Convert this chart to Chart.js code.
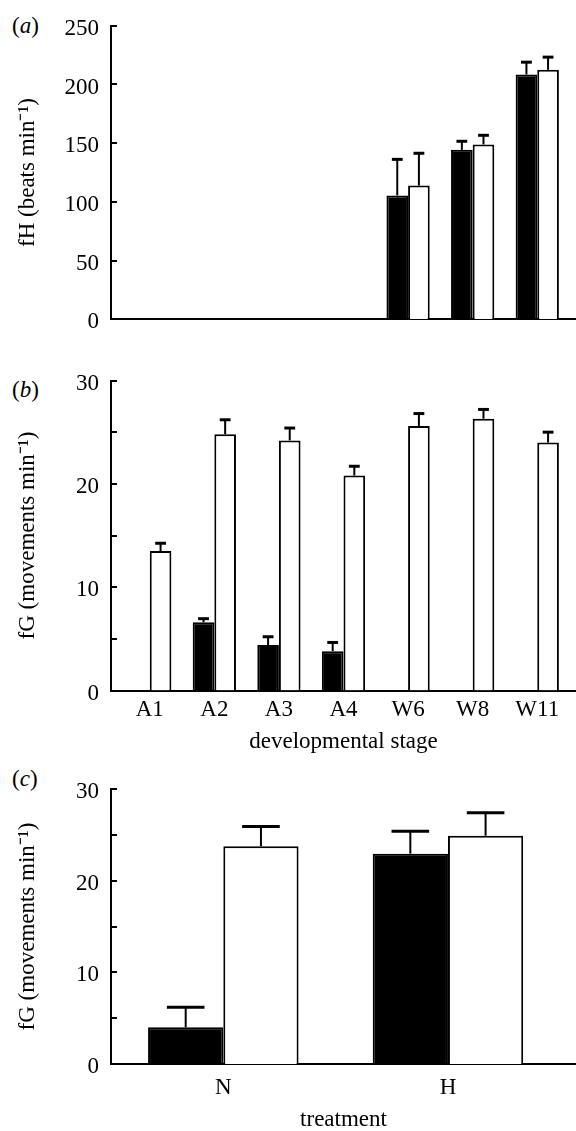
<!DOCTYPE html>
<html>
<head>
<meta charset="utf-8">
<script src="https://cdn.jsdelivr.net/npm/chart.js@4/dist/chart.umd.min.js"></script>
<style>
  body { margin: 0; background: #fff; width: 576px; height: 1131px; position: relative; overflow: hidden; }
  canvas { position: absolute; left: 0; }
  .tag { position: absolute; left: 12px; font: 23px/23px 'Liberation Serif', 'Times New Roman', serif; color: #000; }
</style>
</head>
<body>
<div class="tag" style="top:14px">(<i>a</i>)</div>
<div class="tag" style="top:378px">(<i>b</i>)</div>
<div class="tag" style="top:767px">(<i>c</i>)</div>
<canvas id="chartA" width="576" height="345" style="top:0"></canvas>
<canvas id="chartB" width="576" height="410" style="top:350px"></canvas>
<canvas id="chartC" width="576" height="371" style="top:760px"></canvas>
<script>
// stages and treatments
const stages = ['A1', 'A2', 'A3', 'A4', 'W6', 'W8', 'W11'];
const treatments = ['N', 'H'];

// (a) heart rate, beats per min
const heartFilled = [null, null, null, null, 105.5, 144.3, 208.5];
const heartFilledErr = [null, null, null, null, 30.7, 7.3, 10.5];
const heartOpen = [null, null, null, null, 113.9, 148.9, 212.5];
const heartOpenErr = [null, null, null, null, 27.5, 7.8, 10.8];

// (b) gill movements per min by stage
const gillFilled = [null, 6.6, 4.4, 3.8, null, null, null];
const gillFilledErr = [null, 0.35, 0.8, 0.85, null, null, null];
const gillOpen = [13.5, 24.8, 24.2, 20.8, 25.6, 26.3, 24.0];
const gillOpenErr = [0.75, 1.4, 1.2, 0.9, 1.2, 0.9, 1.0];

// (c) gill movements per min by treatment
const treatFilled = [4.0, 22.95];
const treatFilledErr = [2.2, 2.45];
const treatOpen = [23.75, 24.9];
const treatOpenErr = [2.15, 2.5];

Chart.defaults.font.family = "'Liberation Serif', 'Times New Roman', serif";
Chart.defaults.font.size = 23;
Chart.defaults.color = '#000';

const errorBars = {
  id: 'errorBars',
  afterDatasetsDraw(chart) {
    const ctx = chart.ctx;
    const y = chart.scales.y;
    const left = chart.chartArea.left;
    ctx.save();
    ctx.strokeStyle = '#000';
    // y ticks pointing inwards
    ctx.lineWidth = 2;
    y.ticks.forEach(t => {
      const py = Math.round(y.getPixelForValue(t.value));
      ctx.beginPath();
      ctx.moveTo(left, py);
      ctx.lineTo(left + 6, py);
      ctx.stroke();
    });
    chart.data.datasets.forEach((ds, di) => {
      const meta = chart.getDatasetMeta(di);
      meta.data.forEach((bar, i) => {
        const v = ds.data[i].y, e = ds.errors[i];
        if (v == null || e == null) return;
        const top = y.getPixelForValue(v + e);
        const half = bar.width / 4;
        ctx.lineWidth = 2;
        ctx.beginPath();
        ctx.moveTo(bar.x, bar.y);
        ctx.lineTo(bar.x, top);
        ctx.stroke();
        ctx.lineWidth = 3;
        ctx.beginPath();
        ctx.moveTo(bar.x - half, top);
        ctx.lineTo(bar.x + half, top);
        ctx.stroke();
      });
    });
    ctx.restore();
  }
};

function points(labels, vals) {
  return labels.map((s, i) => ({ x: i, y: vals[i] }));
}

function makeChart(id, cfg) {
  return new Chart(document.getElementById(id), {
    type: 'bar',
    data: {
      datasets: [
        { data: points(cfg.labels, cfg.filled), errors: cfg.filledErr,
          backgroundColor: '#000', borderColor: '#000', borderWidth: 2 },
        { data: points(cfg.labels, cfg.open), errors: cfg.openErr,
          backgroundColor: '#fff', borderColor: '#000', borderWidth: 2 }
      ]
    },
    options: {
      responsive: false,
      animation: false,
      layout: { padding: { top: cfg.top, left: 0, right: 0, bottom: 0 } },
      datasets: { bar: { categoryPercentage: 0.67, barPercentage: 1 } },
      plugins: { legend: { display: false }, tooltip: { enabled: false } },
      scales: {
        x: {
          type: 'linear',
          offset: false,
          min: cfg.xmin, max: cfg.xmax,
          grid: { display: false, drawTicks: false, offset: false },
          border: { color: '#000', width: 2 },
          afterBuildTicks: s => { s.ticks = cfg.labels.map((l, i) => ({ value: i })); },
          afterFit: s => { s.height = cfg.xh; },
          ticks: { display: cfg.showX, padding: cfg.xpad, callback: (v, i) => cfg.labels[i] },
          title: { display: !!cfg.xtitle, text: cfg.xtitle,
                   font: { lineHeight: 1 }, padding: { top: 0, bottom: cfg.xtpad } }
        },
        y: {
          min: 0, max: cfg.ymax,
          grid: { display: false, drawTicks: false },
          border: { color: '#000', width: 2 },
          afterFit: s => { s.width = 111; },
          ticks: { stepSize: cfg.step, padding: 12, labelOffset: 3,
                   callback: v => (v % cfg.labelEvery === 0 ? v : '') },
          title: { display: true, text: cfg.ytitle, padding: { top: 14, bottom: 0 } }
        }
      }
    },
    plugins: [errorBars]
  });
}

makeChart('chartA', {
  labels: stages, filled: heartFilled, filledErr: heartFilledErr,
  open: heartOpen, openErr: heartOpenErr,
  xmin: -0.6, xmax: 6.6, top: 20.5, xh: 15.5, showX: false, xpad: 6, xtitle: '', xtpad: 0,
  ymax: 250, step: 50, labelEvery: 50, ytitle: 'fH (beats min\u207B\u00B9)'
});

makeChart('chartB', {
  labels: stages, filled: gillFilled, filledErr: gillFilledErr,
  open: gillOpen, openErr: gillOpenErr,
  xmin: -0.6, xmax: 6.6, top: 30.5, xh: 69.5, showX: true, xpad: 6, xtitle: 'developmental stage', xtpad: 7,
  ymax: 30, step: 5, labelEvery: 10, ytitle: 'fG (movements min\u207B\u00B9)'
});

makeChart('chartC', {
  labels: treatments, filled: treatFilled, filledErr: treatFilledErr,
  open: treatOpen, openErr: treatOpenErr,
  xmin: -0.5, xmax: 1.57, top: 29, xh: 67, showX: true, xpad: 10, xtitle: 'treatment', xtpad: 0,
  ymax: 30, step: 5, labelEvery: 10, ytitle: 'fG (movements min\u207B\u00B9)'
});
</script>
</body>
</html>
